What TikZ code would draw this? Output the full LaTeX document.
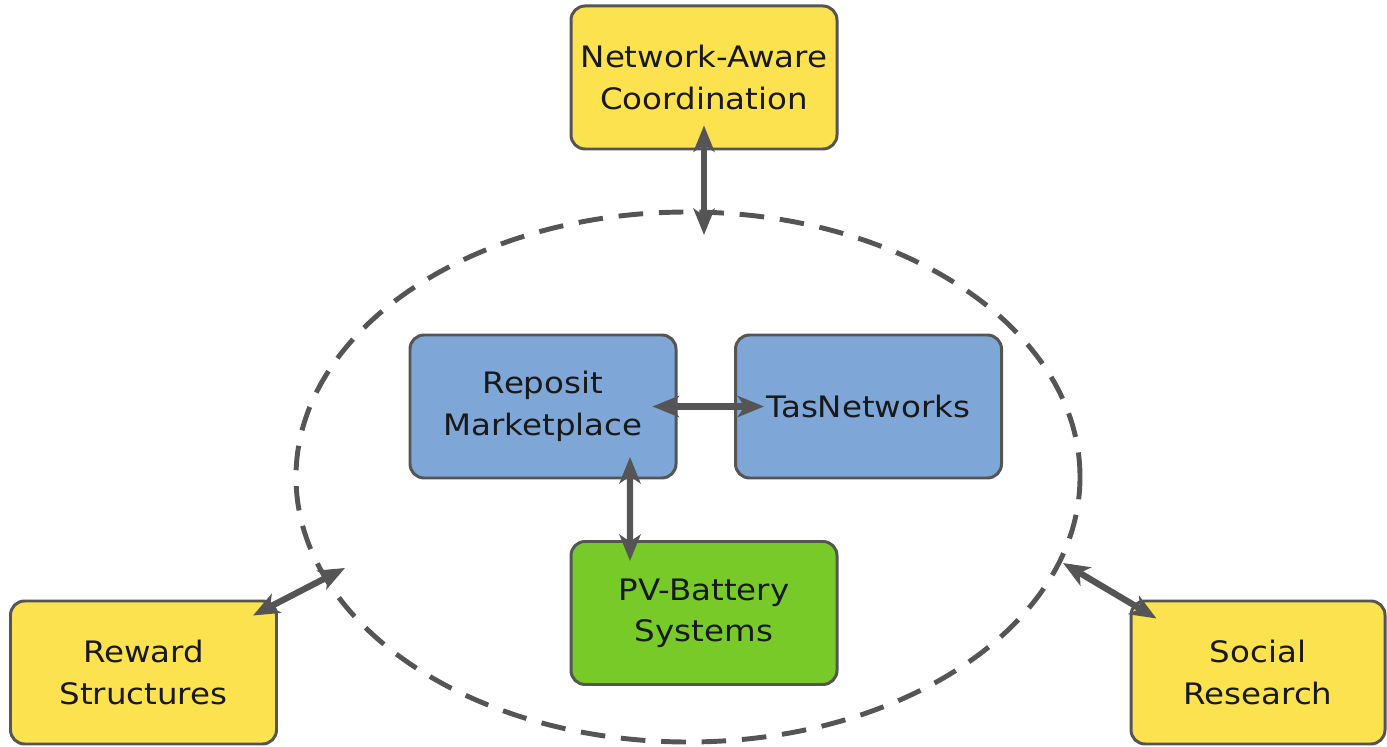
\documentclass[tikz,border=0pt]{standalone}
\usepackage{fontspec}
\setmainfont{DejaVu Sans}[FakeStretch=1.1]
\usetikzlibrary{arrows.meta}
\definecolor{boxyellow}{RGB}{252,226,79}
\definecolor{boxblue}{RGB}{126,166,214}
\definecolor{boxgreen}{RGB}{120,202,40}
\definecolor{edgegray}{RGB}{85,85,85}
\begin{document}
\begin{tikzpicture}[
	box/.style={draw=edgegray,line width=1.7pt,rounded corners=8pt,minimum width=5.32cm,minimum height=2.86cm,align=center,text=black!90,font=\fontsize{16.8}{23.5}\selectfont},
	link/.style={edgegray,line width=3.6pt,{Stealth[length=15pt,width=12pt,inset=4pt]}-{Stealth[length=15pt,width=12pt,inset=4pt]}}
	]
		\useasboundingbox (0,0) rectangle (27.74,14.92);
		% Draws the dashed ellipse round the core partners
		\draw [edgegray,line width=2.8pt,dash pattern=on 14pt off 9pt] (13.76,5.38) ellipse [x radius=7.84,y radius=5.30];
		% Core partners inside the ellipse
		\node [box,fill=boxblue] (reposit) at (10.86,6.79) {Reposit\\Marketplace};
		\node [box,fill=boxblue] (tasnet) at (17.37,6.79) {TasNetworks};
		\node [box,fill=boxgreen] (pv) at (14.08,2.66) {PV-Battery\\Systems};
		% Outer topics round the ellipse
		\node [box,fill=boxyellow] (coord) at (14.08,13.37) {Network-Aware\\Coordination};
		\node [box,fill=boxyellow] (reward) at (2.87,1.47) {Reward\\Structures};
		\node [box,fill=boxyellow,minimum width=5.08cm] (social) at (25.16,1.47) {Social\\Research};
		% Points where the outer arrows meet the ellipse
		\coordinate (etop) at (14.08,10.22);
		\coordinate (eleft) at (6.90,3.56);
		\coordinate (eright) at (21.26,3.66);
		% Draws the two way arrows
		\draw [link] ([xshift=-0.5cm]reposit.east) -- ([xshift=0.6cm]tasnet.west);
		\draw [link] ([shift={(1.74,0.45)}]reposit.south) -- ([shift={(-1.48,-0.42)}]pv.north);
		\draw [link] ([yshift=0.5cm]coord.south) -- (etop);
		\draw [link] ([shift={(-0.5,-0.32)}]reward.north east) -- (eleft);
		\draw [link] (eright) -- ([shift={(0.54,-0.38)}]social.north west);
\end{tikzpicture}
\end{document}
